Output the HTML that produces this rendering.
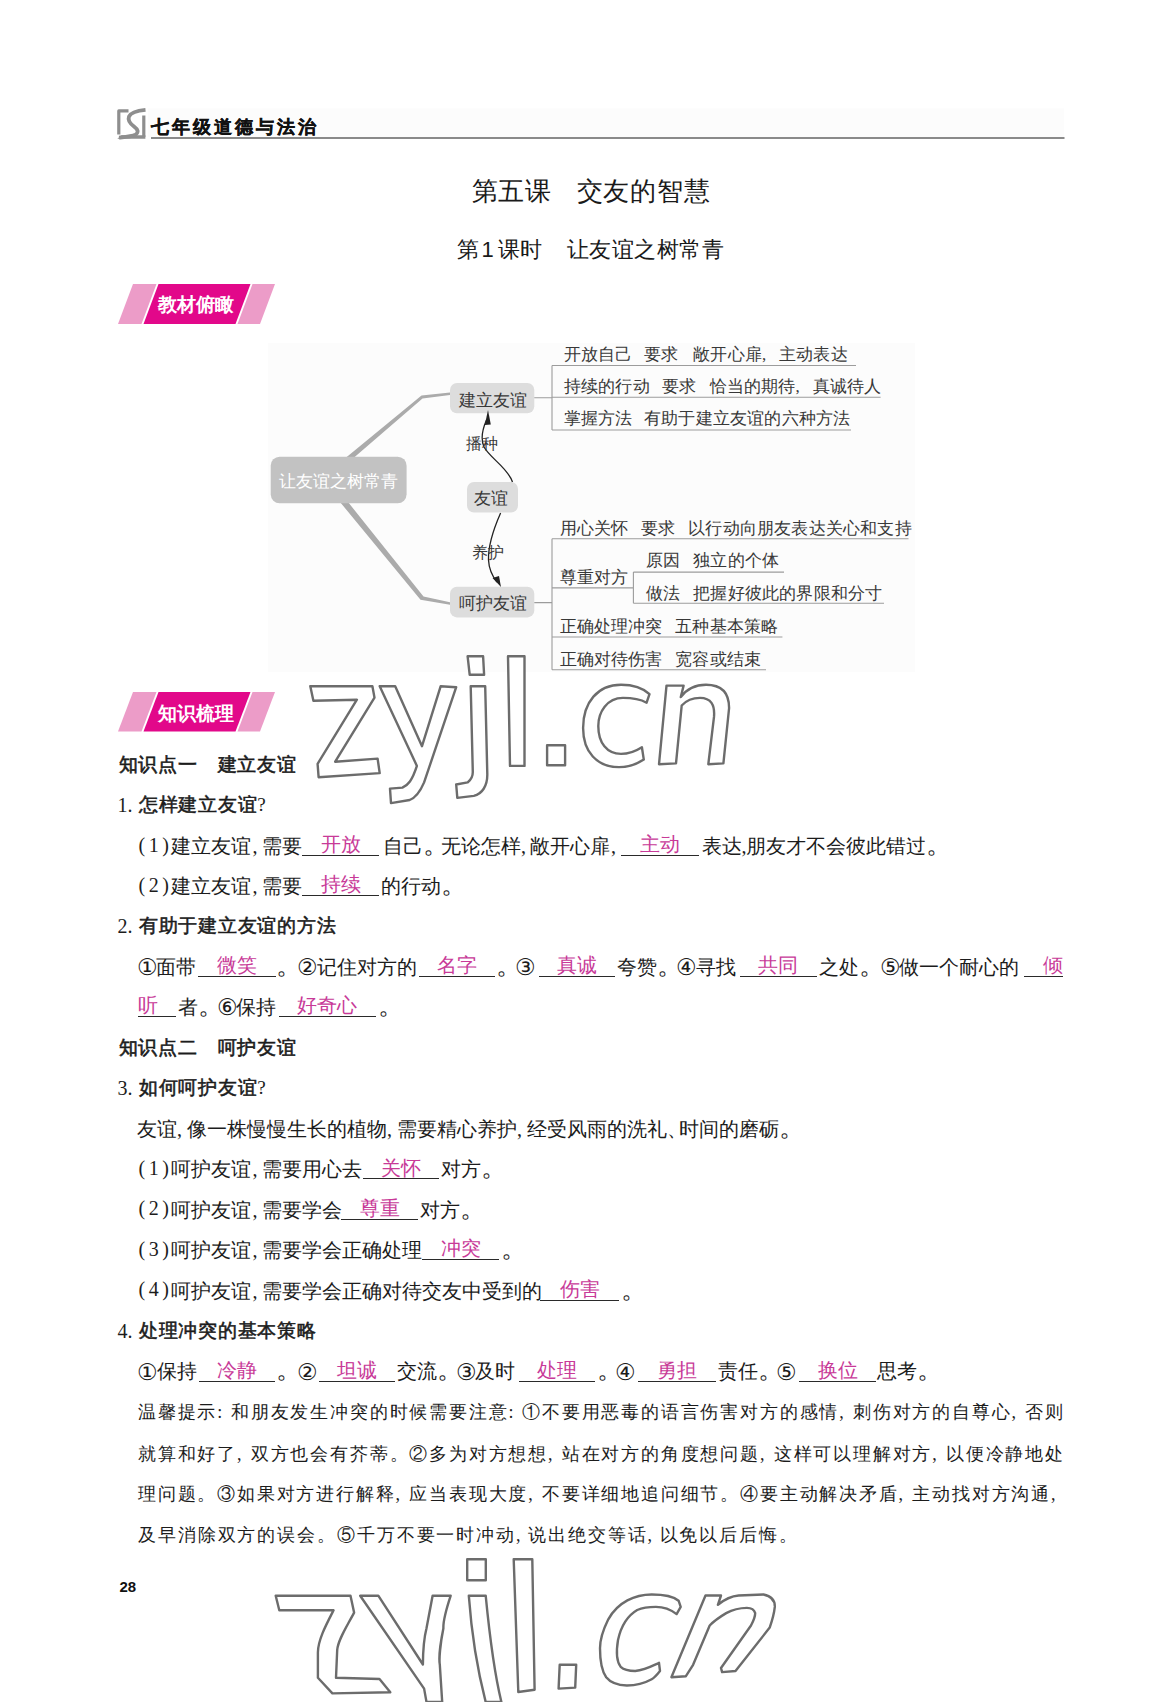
<!DOCTYPE html>
<html><head><meta charset="utf-8">
<style>
html,body{margin:0;padding:0;background:#fff;}
#pg{position:relative;width:1160px;height:1702px;overflow:hidden;background:#fff;}
.t{position:absolute;white-space:nowrap;}
.ul{position:absolute;height:0;border-top:1.2px solid #2a2a2a;}
.c{display:inline-block;width:10px;font-family:"Liberation Serif",serif;}
.c2{display:inline-block;width:12px;}
.pd{display:inline-block;width:0.7692em;font-size:1.3em;line-height:0;vertical-align:0;overflow:visible;}
.cd{display:inline-block;width:1em;font-size:1.14em;line-height:0;vertical-align:-0.07em;margin-right:-0.14em;}
.mc{display:inline-block;width:17px;font-family:"Liberation Serif",serif;}
.tc{display:inline-block;width:12px;}
.ml{position:absolute;background:#9a9a9a;}
</style></head><body><div id="pg">

<svg style="position:absolute;left:0;top:0" width="1160" height="300">
<g fill="none" stroke="#8e8e8e" stroke-linejoin="round">
<path d="M118.8,134.5 V110.9 H128.5" stroke-width="3.2"/>
<path d="M145.5,109.8 C138,110.5 131,112 129,116.5 C127.5,120.5 130,123.5 134,126.5 C138,129.5 139,132 135.5,134.8 C132,136.6 126,137 119,137.6" stroke-width="3.8"/>
<path d="M143.8,115.5 V137" stroke-width="3.2"/>
</g>
<polygon points="117.3,138.8 121.5,135.2 145.4,135.2 145.4,138.8" fill="#8e8e8e"/>
<rect x="148" y="108.5" width="916" height="28.5" fill="#fcfcfc"/>
<rect x="151" y="137" width="913.5" height="2" fill="#8a8a8a"/>
</svg>
<div class="t" style="left:151.0px;top:118.9px;font-size:17.5px;line-height:17.5px;font-family:'Liberation Sans', sans-serif;color:#111;font-weight:bold;letter-spacing:3.0px;-webkit-text-stroke:0.35px #111;">七年级道德与法治</div>
<div class="t" style="left:471.5px;top:177.8px;font-size:26px;line-height:26px;font-family:'Liberation Sans', sans-serif;color:#1a1a1a;letter-spacing:0.8px;">第五课</div>
<div class="t" style="left:576.5px;top:177.8px;font-size:26px;line-height:26px;font-family:'Liberation Sans', sans-serif;color:#1a1a1a;letter-spacing:0.8px;">交友的智慧</div>
<div class="t" style="left:456.5px;top:238.9px;font-size:22px;line-height:22px;font-family:'Liberation Sans', sans-serif;color:#1a1a1a;">第<span style="font-family:Liberation Sans;margin:0 4px 0 3px">1</span>课时</div>
<div class="t" style="left:566.5px;top:238.9px;font-size:22px;line-height:22px;font-family:'Liberation Sans', sans-serif;color:#1a1a1a;letter-spacing:0.55px;">让友谊之树常青</div>
<svg style="position:absolute;left:0;top:281.5px" width="300" height="43.89999999999998">
<g transform="translate(0,-281.5)">
<polygon points="118,323.4 133,283.5 156.5,283.5 141.5,323.4" fill="#ec9cc8"/>
<polygon points="143.5,323.4 158.5,283.5 250.5,283.5 235.5,323.4" fill="#e2088a"/>
<polygon points="237.5,323.4 252.5,283.5 275,283.5 260,323.4" fill="#ec9cc8"/>
</g></svg>
<div class="t" style="left:158.0px;top:294.8px;font-size:19px;line-height:19px;font-family:'Liberation Serif', serif;color:#fff;font-weight:bold;">教材俯瞰</div>
<svg style="position:absolute;left:0;top:690px" width="300" height="43.60000000000002">
<g transform="translate(0,-690)">
<polygon points="118,731.6 133,692 156.5,692 141.5,731.6" fill="#ec9cc8"/>
<polygon points="143.5,731.6 158.5,692 250.5,692 235.5,731.6" fill="#e2088a"/>
<polygon points="237.5,731.6 252.5,692 275,692 260,731.6" fill="#ec9cc8"/>
</g></svg>
<div class="t" style="left:158.0px;top:703.7px;font-size:19px;line-height:19px;font-family:'Liberation Serif', serif;color:#fff;font-weight:bold;">知识梳理</div>
<div style="position:absolute;left:268px;top:343px;width:647px;height:329px;background:#fcfcfc"></div>
<svg style="position:absolute;left:0;top:0" width="1160" height="700">
<polygon points="345.5,458 353.5,458 422.5,398.5 450,395 450,392.5 421.5,395.5" fill="#ababab"/>
<polygon points="340,502 348,502 423.5,596.5 450,602.3 450,604.8 420.5,599.8" fill="#ababab"/>
<rect x="270.7" y="456.7" width="135.9" height="46.6" rx="9" fill="#c2c2c2"/>
<rect x="450" y="382.9" width="84.3" height="30.3" rx="7" fill="#dddddd"/>
<rect x="467" y="482" width="51" height="30.5" rx="7" fill="#dddddd"/>
<rect x="450" y="586.7" width="84.3" height="30.7" rx="7" fill="#dddddd"/>
<g stroke="#9c9c9c" stroke-width="1.1" fill="none">
<path d="M534.3,397.8 H552 M552,365.5 V430 M552,365.5 H856 M552,397.2 H880.6 M552,430 H851"/>
<path d="M534.3,602.6 H552 M552,538.7 V669.8 M552,538.7 H908.5 M552,587.9 H633.4 M552,637 H782.4 M552,669.8 H766 M633.4,572.1 V603.3 M633.4,572.1 H784 M633.4,603.3 H884"/>
</g>
<g stroke="#222" stroke-width="1.3" fill="none">
<path d="M512.5,482 C508,468 490,458 484,447 C480,438 483,428 486.5,420"/>
<path d="M500.6,513 C494,528 488,545 488.5,560 C489,570 493,577 497,582"/>
</g>
<polygon points="488,410 484.8,425 490.8,424.5" fill="#222"/>
<polygon points="501,587 492.5,578 499,576" fill="#222"/>
</svg>
<div class="t" style="left:279.0px;top:472.8px;font-size:17px;line-height:17px;font-family:'Liberation Sans', sans-serif;color:#fff;">让友谊之树常青</div>
<div class="t" style="left:458.5px;top:391.7px;font-size:17px;line-height:17px;font-family:'Liberation Serif', serif;color:#383838;">建立友谊</div>
<div class="t" style="left:474.3px;top:490.4px;font-size:17px;line-height:17px;font-family:'Liberation Serif', serif;color:#383838;">友谊</div>
<div class="t" style="left:458.5px;top:594.9px;font-size:17px;line-height:17px;font-family:'Liberation Serif', serif;color:#383838;">呵护友谊</div>
<div class="t" style="left:465.5px;top:435.8px;font-size:16px;line-height:16px;font-family:'Liberation Serif', serif;color:#383838;">播种</div>
<div class="t" style="left:472.4px;top:544.8px;font-size:16px;line-height:16px;font-family:'Liberation Serif', serif;color:#383838;">养护</div>
<div class="t" style="left:563.8px;top:345.9px;font-size:17px;line-height:17px;font-family:'Liberation Serif', serif;color:#383838;letter-spacing:0.2px;">开放自己</div>
<div class="t" style="left:644.0px;top:345.9px;font-size:17px;line-height:17px;font-family:'Liberation Serif', serif;color:#383838;letter-spacing:0.2px;">要求</div>
<div class="t" style="left:693.2px;top:345.9px;font-size:17px;line-height:17px;font-family:'Liberation Serif', serif;color:#383838;letter-spacing:0.2px;">敞开心扉<span class="mc">,</span>主动表达</div>
<div class="t" style="left:563.8px;top:377.9px;font-size:17px;line-height:17px;font-family:'Liberation Serif', serif;color:#383838;letter-spacing:0.2px;">持续的行动</div>
<div class="t" style="left:662.0px;top:377.9px;font-size:17px;line-height:17px;font-family:'Liberation Serif', serif;color:#383838;letter-spacing:0.2px;">要求</div>
<div class="t" style="left:709.5px;top:377.9px;font-size:17px;line-height:17px;font-family:'Liberation Serif', serif;color:#383838;letter-spacing:0.2px;">恰当的期待<span class="mc">,</span>真诚待人</div>
<div class="t" style="left:563.8px;top:409.9px;font-size:17px;line-height:17px;font-family:'Liberation Serif', serif;color:#383838;letter-spacing:0.2px;">掌握方法</div>
<div class="t" style="left:644.0px;top:409.9px;font-size:17px;line-height:17px;font-family:'Liberation Serif', serif;color:#383838;letter-spacing:0.2px;">有助于建立友谊的六种方法</div>
<div class="t" style="left:559.5px;top:519.5px;font-size:17px;line-height:17px;font-family:'Liberation Serif', serif;color:#383838;letter-spacing:0.2px;">用心关怀</div>
<div class="t" style="left:640.7px;top:519.5px;font-size:17px;line-height:17px;font-family:'Liberation Serif', serif;color:#383838;letter-spacing:0.2px;">要求</div>
<div class="t" style="left:688.2px;top:519.5px;font-size:17px;line-height:17px;font-family:'Liberation Serif', serif;color:#383838;letter-spacing:0.2px;">以行动向朋友表达关心和支持</div>
<div class="t" style="left:559.5px;top:568.6px;font-size:17px;line-height:17px;font-family:'Liberation Serif', serif;color:#383838;letter-spacing:0.2px;">尊重对方</div>
<div class="t" style="left:645.7px;top:552.2px;font-size:17px;line-height:17px;font-family:'Liberation Serif', serif;color:#383838;letter-spacing:0.2px;">原因</div>
<div class="t" style="left:693.2px;top:552.2px;font-size:17px;line-height:17px;font-family:'Liberation Serif', serif;color:#383838;letter-spacing:0.2px;">独立的个体</div>
<div class="t" style="left:645.7px;top:585.0px;font-size:17px;line-height:17px;font-family:'Liberation Serif', serif;color:#383838;letter-spacing:0.2px;">做法</div>
<div class="t" style="left:693.2px;top:585.0px;font-size:17px;line-height:17px;font-family:'Liberation Serif', serif;color:#383838;letter-spacing:0.2px;">把握好彼此的界限和分寸</div>
<div class="t" style="left:559.5px;top:617.8px;font-size:17px;line-height:17px;font-family:'Liberation Serif', serif;color:#383838;letter-spacing:0.2px;">正确处理冲突</div>
<div class="t" style="left:675.2px;top:617.8px;font-size:17px;line-height:17px;font-family:'Liberation Serif', serif;color:#383838;letter-spacing:0.2px;">五种基本策略</div>
<div class="t" style="left:559.5px;top:650.6px;font-size:17px;line-height:17px;font-family:'Liberation Serif', serif;color:#383838;letter-spacing:0.2px;">正确对待伤害</div>
<div class="t" style="left:675.2px;top:650.6px;font-size:17px;line-height:17px;font-family:'Liberation Serif', serif;color:#383838;letter-spacing:0.2px;">宽容或结束</div>
<div class="t" style="left:118.5px;top:754.8px;font-size:19px;line-height:19px;font-family:'Liberation Sans', sans-serif;color:#1c1c1c;letter-spacing:0.8px;-webkit-text-stroke:0.6px #1c1c1c;">知识点一</div>
<div class="t" style="left:217.5px;top:754.8px;font-size:19px;line-height:19px;font-family:'Liberation Sans', sans-serif;color:#1c1c1c;letter-spacing:0.8px;-webkit-text-stroke:0.6px #1c1c1c;">建立友谊</div>
<div class="t" style="left:117.5px;top:795.4px;font-size:20px;line-height:20px;font-family:'Liberation Serif', serif;color:#1c1c1c;">1.</div>
<div class="t" style="left:138.8px;top:795.1px;font-size:19px;line-height:19px;font-family:'Liberation Sans', sans-serif;color:#1c1c1c;letter-spacing:0.75px;-webkit-text-stroke:0.55px #1c1c1c;">怎样建立友谊<span style="font-weight:normal;font-family:Liberation Serif;-webkit-text-stroke:0">?</span></div>
<div class="t" style="left:138.5px;top:834.7px;font-size:20px;line-height:20px;font-family:'Liberation Serif', serif;color:#1c1c1c;letter-spacing:3.5px;">(1)</div>
<div class="t" style="left:171.0px;top:836.2px;font-size:20px;line-height:20px;font-family:'Liberation Serif', serif;color:#1c1c1c;">建立友谊</div>
<div class="t" style="left:252.5px;top:836.2px;font-size:20px;line-height:20px;font-family:'Liberation Serif', serif;color:#1c1c1c;">,</div>
<div class="t" style="left:262.0px;top:836.2px;font-size:20px;line-height:20px;font-family:'Liberation Serif', serif;color:#1c1c1c;">需要</div>
<div class="t" style="left:383.0px;top:836.2px;font-size:20px;line-height:20px;font-family:'Liberation Serif', serif;color:#1c1c1c;">自己<span class="pd">。</span></div>
<div class="t" style="left:441.0px;top:836.2px;font-size:20px;line-height:20px;font-family:'Liberation Serif', serif;color:#1c1c1c;">无论怎样</div>
<div class="t" style="left:521.0px;top:836.2px;font-size:20px;line-height:20px;font-family:'Liberation Serif', serif;color:#1c1c1c;">,</div>
<div class="t" style="left:530.0px;top:836.2px;font-size:20px;line-height:20px;font-family:'Liberation Serif', serif;color:#1c1c1c;">敞开心扉</div>
<div class="t" style="left:611.0px;top:836.2px;font-size:20px;line-height:20px;font-family:'Liberation Serif', serif;color:#1c1c1c;">,</div>
<div class="t" style="left:702.0px;top:836.2px;font-size:20px;line-height:20px;font-family:'Liberation Serif', serif;color:#1c1c1c;">表达</div>
<div class="t" style="left:741.5px;top:836.2px;font-size:20px;line-height:20px;font-family:'Liberation Serif', serif;color:#1c1c1c;">,</div>
<div class="t" style="left:746.0px;top:836.2px;font-size:20px;line-height:20px;font-family:'Liberation Serif', serif;color:#1c1c1c;">朋友才不会彼此错过<span class="pd">。</span></div>
<div class="ul" style="left:302.0px;top:854.6px;width:77.2px"></div>
<div class="t" style="left:320.6px;top:834.1px;font-size:20px;line-height:20px;font-family:'Liberation Serif', serif;color:#c83a98;">开放</div>
<div class="ul" style="left:621.0px;top:854.6px;width:78.4px"></div>
<div class="t" style="left:640.2px;top:834.1px;font-size:20px;line-height:20px;font-family:'Liberation Serif', serif;color:#c83a98;">主动</div>
<div class="t" style="left:138.5px;top:874.8px;font-size:20px;line-height:20px;font-family:'Liberation Serif', serif;color:#1c1c1c;letter-spacing:3.5px;">(2)</div>
<div class="t" style="left:171.0px;top:876.3px;font-size:20px;line-height:20px;font-family:'Liberation Serif', serif;color:#1c1c1c;">建立友谊</div>
<div class="t" style="left:252.5px;top:876.3px;font-size:20px;line-height:20px;font-family:'Liberation Serif', serif;color:#1c1c1c;">,</div>
<div class="t" style="left:262.0px;top:876.3px;font-size:20px;line-height:20px;font-family:'Liberation Serif', serif;color:#1c1c1c;">需要</div>
<div class="t" style="left:381.0px;top:876.3px;font-size:20px;line-height:20px;font-family:'Liberation Serif', serif;color:#1c1c1c;">的行动<span class="pd">。</span></div>
<div class="ul" style="left:302.0px;top:894.6px;width:77.2px"></div>
<div class="t" style="left:320.6px;top:874.1px;font-size:20px;line-height:20px;font-family:'Liberation Serif', serif;color:#c83a98;">持续</div>
<div class="t" style="left:117.5px;top:916.4px;font-size:20px;line-height:20px;font-family:'Liberation Serif', serif;color:#1c1c1c;">2.</div>
<div class="t" style="left:138.8px;top:916.1px;font-size:19px;line-height:19px;font-family:'Liberation Sans', sans-serif;color:#1c1c1c;letter-spacing:0.75px;-webkit-text-stroke:0.55px #1c1c1c;">有助于建立友谊的方法</div>
<div class="t" style="left:136.5px;top:956.5px;font-size:20px;line-height:20px;font-family:'Liberation Serif', serif;color:#1c1c1c;"><span class="cd">①</span>面带</div>
<div class="t" style="left:276.0px;top:956.5px;font-size:20px;line-height:20px;font-family:'Liberation Serif', serif;color:#1c1c1c;"><span class="pd">。</span></div>
<div class="t" style="left:297.0px;top:956.5px;font-size:20px;line-height:20px;font-family:'Liberation Serif', serif;color:#1c1c1c;"><span class="cd">②</span>记住对方的</div>
<div class="t" style="left:496.0px;top:956.5px;font-size:20px;line-height:20px;font-family:'Liberation Serif', serif;color:#1c1c1c;"><span class="pd">。</span></div>
<div class="t" style="left:514.5px;top:956.5px;font-size:20px;line-height:20px;font-family:'Liberation Serif', serif;color:#1c1c1c;"><span class="cd">③</span></div>
<div class="t" style="left:617.0px;top:956.5px;font-size:20px;line-height:20px;font-family:'Liberation Serif', serif;color:#1c1c1c;">夸赞<span class="pd">。</span></div>
<div class="t" style="left:676.0px;top:956.5px;font-size:20px;line-height:20px;font-family:'Liberation Serif', serif;color:#1c1c1c;"><span class="cd">④</span>寻找</div>
<div class="t" style="left:819.0px;top:956.5px;font-size:20px;line-height:20px;font-family:'Liberation Serif', serif;color:#1c1c1c;">之处<span class="pd">。</span></div>
<div class="t" style="left:879.5px;top:956.5px;font-size:20px;line-height:20px;font-family:'Liberation Serif', serif;color:#1c1c1c;"><span class="cd">⑤</span>做一个耐心的</div>
<div class="ul" style="left:198.2px;top:975.7px;width:78.0px"></div>
<div class="t" style="left:217.2px;top:955.2px;font-size:20px;line-height:20px;font-family:'Liberation Serif', serif;color:#c83a98;">微笑</div>
<div class="ul" style="left:419.0px;top:975.7px;width:76.0px"></div>
<div class="t" style="left:437.0px;top:955.2px;font-size:20px;line-height:20px;font-family:'Liberation Serif', serif;color:#c83a98;">名字</div>
<div class="ul" style="left:539.3px;top:975.7px;width:75.9px"></div>
<div class="t" style="left:557.2px;top:955.2px;font-size:20px;line-height:20px;font-family:'Liberation Serif', serif;color:#c83a98;">真诚</div>
<div class="ul" style="left:739.5px;top:975.7px;width:77.8px"></div>
<div class="t" style="left:758.4px;top:955.2px;font-size:20px;line-height:20px;font-family:'Liberation Serif', serif;color:#c83a98;">共同</div>
<div class="ul" style="left:1024.0px;top:975.7px;width:39.0px"></div>
<div class="t" style="left:1043.0px;top:955.2px;font-size:20px;line-height:20px;font-family:'Liberation Serif', serif;color:#c83a98;">倾</div>
<div class="t" style="left:178.0px;top:996.5px;font-size:20px;line-height:20px;font-family:'Liberation Serif', serif;color:#1c1c1c;">者<span class="pd">。</span></div>
<div class="t" style="left:216.5px;top:996.5px;font-size:20px;line-height:20px;font-family:'Liberation Serif', serif;color:#1c1c1c;"><span class="cd">⑥</span>保持</div>
<div class="t" style="left:378.0px;top:996.5px;font-size:20px;line-height:20px;font-family:'Liberation Serif', serif;color:#1c1c1c;"><span class="pd">。</span></div>
<div class="ul" style="left:138.0px;top:1015.8px;width:38.3px"></div>
<div class="t" style="left:138.0px;top:995.3px;font-size:20px;line-height:20px;font-family:'Liberation Serif', serif;color:#c83a98;">听</div>
<div class="ul" style="left:278.9px;top:1015.8px;width:97.0px"></div>
<div class="t" style="left:297.4px;top:995.3px;font-size:20px;line-height:20px;font-family:'Liberation Serif', serif;color:#c83a98;">好奇心</div>
<div class="t" style="left:118.5px;top:1037.5px;font-size:19px;line-height:19px;font-family:'Liberation Sans', sans-serif;color:#1c1c1c;letter-spacing:0.8px;-webkit-text-stroke:0.6px #1c1c1c;">知识点二</div>
<div class="t" style="left:217.5px;top:1037.5px;font-size:19px;line-height:19px;font-family:'Liberation Sans', sans-serif;color:#1c1c1c;letter-spacing:0.8px;-webkit-text-stroke:0.6px #1c1c1c;">呵护友谊</div>
<div class="t" style="left:117.5px;top:1078.0px;font-size:20px;line-height:20px;font-family:'Liberation Serif', serif;color:#1c1c1c;">3.</div>
<div class="t" style="left:138.8px;top:1077.7px;font-size:19px;line-height:19px;font-family:'Liberation Sans', sans-serif;color:#1c1c1c;letter-spacing:0.75px;-webkit-text-stroke:0.55px #1c1c1c;">如何呵护友谊<span style="font-weight:normal;font-family:Liberation Serif;-webkit-text-stroke:0">?</span></div>
<div class="t" style="left:137.0px;top:1119.0px;font-size:20px;line-height:20px;font-family:'Liberation Serif', serif;color:#1c1c1c;">友谊<span class="c">,</span>像一株慢慢生长的植物<span class="c">,</span>需要精心养护<span class="c">,</span>经受风雨的洗礼<span class="c2">、</span>时间的磨砺<span class="pd">。</span></div>
<div class="t" style="left:138.5px;top:1157.5px;font-size:20px;line-height:20px;font-family:'Liberation Serif', serif;color:#1c1c1c;letter-spacing:3.5px;">(1)</div>
<div class="t" style="left:171.0px;top:1159.0px;font-size:20px;line-height:20px;font-family:'Liberation Serif', serif;color:#1c1c1c;">呵护友谊</div>
<div class="t" style="left:252.5px;top:1159.0px;font-size:20px;line-height:20px;font-family:'Liberation Serif', serif;color:#1c1c1c;">,</div>
<div class="t" style="left:262.0px;top:1159.0px;font-size:20px;line-height:20px;font-family:'Liberation Serif', serif;color:#1c1c1c;">需要用心去</div>
<div class="t" style="left:440.5px;top:1159.0px;font-size:20px;line-height:20px;font-family:'Liberation Serif', serif;color:#1c1c1c;">对方<span class="pd">。</span></div>
<div class="ul" style="left:363.3px;top:1178.3px;width:76.2px"></div>
<div class="t" style="left:381.4px;top:1157.8px;font-size:20px;line-height:20px;font-family:'Liberation Serif', serif;color:#c83a98;">关怀</div>
<div class="t" style="left:138.5px;top:1198.1px;font-size:20px;line-height:20px;font-family:'Liberation Serif', serif;color:#1c1c1c;letter-spacing:3.5px;">(2)</div>
<div class="t" style="left:171.0px;top:1199.6px;font-size:20px;line-height:20px;font-family:'Liberation Serif', serif;color:#1c1c1c;">呵护友谊</div>
<div class="t" style="left:252.5px;top:1199.6px;font-size:20px;line-height:20px;font-family:'Liberation Serif', serif;color:#1c1c1c;">,</div>
<div class="t" style="left:262.0px;top:1199.6px;font-size:20px;line-height:20px;font-family:'Liberation Serif', serif;color:#1c1c1c;">需要学会</div>
<div class="t" style="left:420.0px;top:1199.6px;font-size:20px;line-height:20px;font-family:'Liberation Serif', serif;color:#1c1c1c;">对方<span class="pd">。</span></div>
<div class="ul" style="left:341.0px;top:1218.8px;width:77.4px"></div>
<div class="t" style="left:359.7px;top:1198.3px;font-size:20px;line-height:20px;font-family:'Liberation Serif', serif;color:#c83a98;">尊重</div>
<div class="t" style="left:138.5px;top:1238.5px;font-size:20px;line-height:20px;font-family:'Liberation Serif', serif;color:#1c1c1c;letter-spacing:3.5px;">(3)</div>
<div class="t" style="left:171.0px;top:1240.0px;font-size:20px;line-height:20px;font-family:'Liberation Serif', serif;color:#1c1c1c;">呵护友谊</div>
<div class="t" style="left:252.5px;top:1240.0px;font-size:20px;line-height:20px;font-family:'Liberation Serif', serif;color:#1c1c1c;">,</div>
<div class="t" style="left:262.0px;top:1240.0px;font-size:20px;line-height:20px;font-family:'Liberation Serif', serif;color:#1c1c1c;">需要学会正确处理</div>
<div class="t" style="left:501.0px;top:1240.0px;font-size:20px;line-height:20px;font-family:'Liberation Serif', serif;color:#1c1c1c;"><span class="pd">。</span></div>
<div class="ul" style="left:421.9px;top:1258.9px;width:77.4px"></div>
<div class="t" style="left:440.6px;top:1238.4px;font-size:20px;line-height:20px;font-family:'Liberation Serif', serif;color:#c83a98;">冲突</div>
<div class="t" style="left:138.5px;top:1279.2px;font-size:20px;line-height:20px;font-family:'Liberation Serif', serif;color:#1c1c1c;letter-spacing:3.5px;">(4)</div>
<div class="t" style="left:171.0px;top:1280.7px;font-size:20px;line-height:20px;font-family:'Liberation Serif', serif;color:#1c1c1c;">呵护友谊</div>
<div class="t" style="left:252.5px;top:1280.7px;font-size:20px;line-height:20px;font-family:'Liberation Serif', serif;color:#1c1c1c;">,</div>
<div class="t" style="left:262.0px;top:1280.7px;font-size:20px;line-height:20px;font-family:'Liberation Serif', serif;color:#1c1c1c;">需要学会正确对待交友中受到的</div>
<div class="t" style="left:621.0px;top:1280.7px;font-size:20px;line-height:20px;font-family:'Liberation Serif', serif;color:#1c1c1c;"><span class="pd">。</span></div>
<div class="ul" style="left:540.3px;top:1299.5px;width:79.1px"></div>
<div class="t" style="left:559.8px;top:1279.0px;font-size:20px;line-height:20px;font-family:'Liberation Serif', serif;color:#c83a98;">伤害</div>
<div class="t" style="left:117.5px;top:1320.8px;font-size:20px;line-height:20px;font-family:'Liberation Serif', serif;color:#1c1c1c;">4.</div>
<div class="t" style="left:138.8px;top:1320.5px;font-size:19px;line-height:19px;font-family:'Liberation Sans', sans-serif;color:#1c1c1c;letter-spacing:0.75px;-webkit-text-stroke:0.55px #1c1c1c;">处理冲突的基本策略</div>
<div class="t" style="left:137.0px;top:1361.0px;font-size:20px;line-height:20px;font-family:'Liberation Serif', serif;color:#1c1c1c;"><span class="cd">①</span>保持</div>
<div class="t" style="left:276.0px;top:1361.0px;font-size:20px;line-height:20px;font-family:'Liberation Serif', serif;color:#1c1c1c;"><span class="pd">。</span></div>
<div class="t" style="left:296.5px;top:1361.0px;font-size:20px;line-height:20px;font-family:'Liberation Serif', serif;color:#1c1c1c;"><span class="cd">②</span></div>
<div class="t" style="left:397.0px;top:1361.0px;font-size:20px;line-height:20px;font-family:'Liberation Serif', serif;color:#1c1c1c;">交流<span class="pd">。</span></div>
<div class="t" style="left:455.5px;top:1361.0px;font-size:20px;line-height:20px;font-family:'Liberation Serif', serif;color:#1c1c1c;"><span class="cd">③</span>及时</div>
<div class="t" style="left:597.0px;top:1361.0px;font-size:20px;line-height:20px;font-family:'Liberation Serif', serif;color:#1c1c1c;"><span class="pd">。</span></div>
<div class="t" style="left:615.0px;top:1361.0px;font-size:20px;line-height:20px;font-family:'Liberation Serif', serif;color:#1c1c1c;"><span class="cd">④</span></div>
<div class="t" style="left:717.5px;top:1361.0px;font-size:20px;line-height:20px;font-family:'Liberation Serif', serif;color:#1c1c1c;">责任<span class="pd">。</span></div>
<div class="t" style="left:776.0px;top:1361.0px;font-size:20px;line-height:20px;font-family:'Liberation Serif', serif;color:#1c1c1c;"><span class="cd">⑤</span></div>
<div class="t" style="left:876.5px;top:1361.0px;font-size:20px;line-height:20px;font-family:'Liberation Serif', serif;color:#1c1c1c;">思考<span class="pd">。</span></div>
<div class="ul" style="left:199.0px;top:1380.7px;width:76.0px"></div>
<div class="t" style="left:217.0px;top:1360.2px;font-size:20px;line-height:20px;font-family:'Liberation Serif', serif;color:#c83a98;">冷静</div>
<div class="ul" style="left:319.0px;top:1380.7px;width:76.0px"></div>
<div class="t" style="left:337.0px;top:1360.2px;font-size:20px;line-height:20px;font-family:'Liberation Serif', serif;color:#c83a98;">坦诚</div>
<div class="ul" style="left:518.8px;top:1380.7px;width:76.6px"></div>
<div class="t" style="left:537.1px;top:1360.2px;font-size:20px;line-height:20px;font-family:'Liberation Serif', serif;color:#c83a98;">处理</div>
<div class="ul" style="left:637.8px;top:1380.7px;width:77.8px"></div>
<div class="t" style="left:656.7px;top:1360.2px;font-size:20px;line-height:20px;font-family:'Liberation Serif', serif;color:#c83a98;">勇担</div>
<div class="ul" style="left:798.6px;top:1380.7px;width:77.8px"></div>
<div class="t" style="left:817.5px;top:1360.2px;font-size:20px;line-height:20px;font-family:'Liberation Serif', serif;color:#c83a98;">换位</div>
<div class="t" style="left:138px;top:1403.4px;width:925px;font-size:18px;line-height:18px;font-family:'Liberation Serif', serif;color:#1c1c1c;text-align:justify;text-align-last:justify;white-space:normal;">温馨提示<span class="tc">:</span>和朋友发生冲突的时候需要注意<span class="tc">:</span>①不要用恶毒的语言伤害对方的感情<span class="tc">,</span>刺伤对方的自尊心<span class="tc">,</span>否则</div>
<div class="t" style="left:138px;top:1444.9px;width:925px;font-size:18px;line-height:18px;font-family:'Liberation Serif', serif;color:#1c1c1c;text-align:justify;text-align-last:justify;white-space:normal;">就算和好了<span class="tc">,</span>双方也会有芥蒂。②多为对方想想<span class="tc">,</span>站在对方的角度想问题<span class="tc">,</span>这样可以理解对方<span class="tc">,</span>以便冷静地处</div>
<div class="t" style="left:138px;top:1485.3px;width:925px;font-size:18px;line-height:18px;font-family:'Liberation Serif', serif;color:#1c1c1c;text-align:justify;text-align-last:justify;white-space:normal;">理问题。③如果对方进行解释<span class="tc">,</span>应当表现大度<span class="tc">,</span>不要详细地追问细节。④要主动解决矛盾<span class="tc">,</span>主动找对方沟通<span class="tc">,</span></div>
<div class="t" style="left:138px;top:1525.6px;font-size:18px;line-height:18px;font-family:'Liberation Serif', serif;color:#1c1c1c;letter-spacing:1.9px">及早消除双方的误会。⑤千万不要一时冲动<span class="tc">,</span>说出绝交等话<span class="tc">,</span>以免以后后悔。</div>
<div class="t" style="left:119.5px;top:1578.5px;font-size:15px;line-height:15px;font-family:'Liberation Sans', sans-serif;font-weight:bold;color:#111">28</div>
<svg style="position:absolute;left:0;top:0" width="1160" height="1702">
<g fill="#fff" stroke="#6c6c6c" stroke-width="2.4" stroke-linejoin="round">
<path d="M310.3,686.2 L372.4,686.2 L374.5,697.6 L335.2,761.7 L377.6,758.6 L379.7,773.1 L318.6,777.2 L317.6,763.8 L356.9,699.7 L313.4,700.7 Z"/>
<path d="M379.7,686.2 L395.2,686.2 L422,746.2 L440.7,686.2 L456.2,687.2 L424.1,782.4 C420,792 415,798 409.7,800 L391,803.1 L390,788.6 L402.4,787.6 C408,785 412,781 416.9,765.9 Z"/>
<path d="M467.6,656.2 L483.1,656.2 L484.1,674.8 L469.7,674.8 Z"/>
<path d="M470.7,686.2 L485.2,686.2 L487.3,774.1 C487.5,786 482,794 473.8,795.9 L457.3,797.9 L456.2,784.5 L467.6,782.4 C471,780 472.8,777 472.8,772.1 Z"/>
<path d="M508,656.2 L524.5,656.2 L524.5,765.9 L510,765.9 Z"/>
<path d="M547.1,745.3 L565.1,745.3 L565.1,765.3 L547.1,765.3 Z"/>
<path d="M621,684.7 C632,684.7 643,688 649.5,694.1 L646.6,702.7 C640,699 632,697.9 622.9,697.9 C607,698 598.3,712 598.3,726 C598.3,743 607,753.9 621,753.9 C630,753.9 636,751 641.9,747.2 L643.8,759.6 C637,764 630,767.1 619,767.1 C597,767.1 583.1,752 583.1,728 C583.1,702 598,684.7 621,684.7 Z"/>
<path d="M666.5,685.6 L683.6,685.6 L680.8,697 C686,690 695,684.7 706,684.7 C722,684.7 729.1,693 729.1,708 L723.4,763.4 L708.3,764.3 L714,716.9 C715,705 711,697.9 700,697.9 C690,697.9 684,703 681.7,705.5 L676,763.4 L659,764.3 Z"/>
</g>
<g fill="#fff" stroke="#6c6c6c" stroke-width="2.4" stroke-linejoin="round">
<path d="M275.7,1595.7 L350.5,1595.7 L354.1,1612.6 C346,1628 338,1640 337.2,1650 L336,1677.8 L379.5,1679 L390.3,1692.2 L332.4,1693.4 L317.9,1677.8 L317.9,1652.4 C318,1640 326,1625 333.6,1610.2 L279.3,1610.2 Z"/>
<path d="M360.2,1595.7 L378.3,1595.7 L422.9,1664.5 C423,1650 424,1638 426.5,1628.3 L432.6,1595.7 L450.7,1595.7 C446,1610 443,1620 443.4,1628.3 C440,1645 439,1660 439.8,1664.5 L442.2,1702 L426.5,1702 L424.1,1688.6 Z"/>
<path d="M467.2,1559.3 L485.8,1559.3 L485.8,1580.3 L467.2,1580.3 Z"/>
<path d="M468.8,1595.7 L485.7,1595.7 C490,1640 496,1680 501.4,1702 L485.7,1702 C480,1680 472,1640 468.8,1595.7 Z"/>
<path d="M513.7,1559.3 L532.3,1559.3 L534.6,1689.7 L518.3,1692 Z"/>
<path d="M559.7,1664.8 L576.2,1664.8 L575.2,1687.6 L558.6,1688.6 Z"/>
<path d="M651.7,1594.5 C664,1594.5 674,1597 678.6,1600.7 L680.7,1606.9 L676.6,1614.1 C670,1609 662,1606.9 655.9,1606.9 C648,1607 642,1608 637.2,1610 C627,1616 620.7,1627.6 618,1640 C616,1652 617,1662 620.7,1666.9 C624,1670 630,1671 635.2,1671 C645,1670 652,1666 659,1662.8 L660,1671 C656,1676 654,1678 651.7,1679.3 C645,1683 635,1685.5 626.9,1685.5 C615,1685 610,1682 606.2,1677.2 C601,1670 600,1658 600,1648.3 C600,1640 604,1628 608.3,1619.3 C618,1602 635,1594.5 651.7,1594.5 Z"/>
<path d="M671.4,1677.2 L705.5,1595.5 L721,1595.5 L717.9,1604.8 C725,1599 732,1596 738.6,1595.5 L763.5,1594.5 C771,1596 775,1600 774.8,1606.9 C774,1615 772,1621 769.7,1627.6 L735.5,1671 L722.1,1672.1 L721,1668 L751,1625.5 C754,1620 755.2,1616 755.2,1613.1 C754,1609 750,1607.9 746.9,1607.9 C738,1608 732,1610 726.2,1613.1 C718,1618 713,1622 709.7,1625.5 L693.1,1664.8 L685.9,1676.2 Z"/>
</g>
</svg>
</div></body></html>
